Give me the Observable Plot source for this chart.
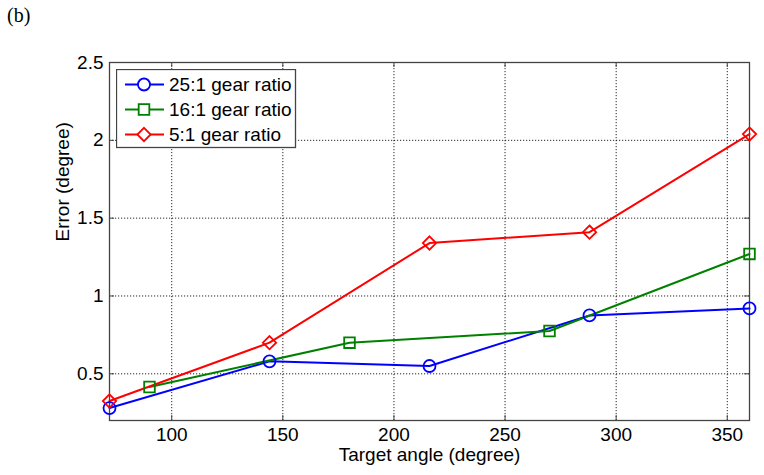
<!DOCTYPE html>
<html>
<head>
<meta charset="utf-8">
<script src="https://cdn.jsdelivr.net/npm/d3@7"></script>
<script src="https://cdn.jsdelivr.net/npm/@observablehq/plot@0.6"></script>
<style>
  html, body { margin: 0; padding: 0; background: #fff; }
  #wrap { position: relative; width: 764px; height: 475px; font-family: "Liberation Sans", Arial, sans-serif; }
  #tag { position: absolute; left: 7px; top: 4px; font-family: "Liberation Serif", "Times New Roman", serif; font-size: 20px; color: #000; }
  #legend { position: absolute; left: 116px; top: 69px; }
</style>
</head>
<body>
<div id="wrap">
  <div id="tag">(b)</div>
</div>
<script>
// ---- data ----
const seriesNames = ["25:1 gear ratio", "16:1 gear ratio", "5:1 gear ratio"];
const seriesColors = ["#0000ff", "#008000", "#ff0000"];
const seriesSymbols = ["circle", "square", "diamond2"];

const angles25 = [72, 144, 216, 288, 360];
const error25  = [0.28, 0.58, 0.55, 0.875, 0.92];

const angles16 = [90, 180, 270, 360];
const error16  = [0.415, 0.70, 0.775, 1.27];

const angles5  = [72, 144, 216, 288, 360];
const error5   = [0.325, 0.70, 1.34, 1.41, 2.04];

const xTicks = [100, 150, 200, 250, 300, 350];
const yTicks = [0.5, 1, 1.5, 2, 2.5];
const xLabel = "Target angle (degree)";
const yLabel = "Error (degree)";

// ---- build table ----
const rows = [];
[[angles25, error25], [angles16, error16], [angles5, error5]].forEach(([xs, ys], i) => {
  xs.forEach((x, j) => rows.push({series: seriesNames[i], angle: x, error: ys[j]}));
});

const W = 764, H = 475, mL = 109, mR = 15, mT = 62, mB = 55;
const fw = W - mL - mR, fh = H - mT - mB;
const axisColor = "#444";
const tickLen = 5;
const FS = 19;

const chart = Plot.plot({
  width: W, height: H,
  marginLeft: mL, marginRight: mR, marginTop: mT, marginBottom: mB,
  style: {fontFamily: "Liberation Sans, Arial, sans-serif", fontSize: FS + "px", color: "#000", background: "#fff"},
  x: {domain: [72, 360], ticks: xTicks, tickSize: 0, tickPadding: 7, label: null, tickFormat: d => String(d)},
  y: {domain: [0.2, 2.5], ticks: yTicks, tickSize: 0, tickPadding: 6, label: null, tickFormat: d => String(d)},
  color: {domain: seriesNames, range: seriesColors},
  symbol: {domain: seriesNames, range: seriesSymbols},
  marks: [
    Plot.ruleX(xTicks, {x: d => d, stroke: "#000", strokeOpacity: 0.85, strokeWidth: 1, strokeDasharray: "1.2,1.8"}),
    Plot.ruleY(yTicks, {y: d => d, stroke: "#000", strokeOpacity: 0.85, strokeWidth: 1, strokeDasharray: "1.2,1.8"}),
    Plot.tickX(xTicks, {x: d => d, insetBottom: fh - tickLen, stroke: axisColor}),
    Plot.tickX(xTicks, {x: d => d, insetTop: fh - tickLen, stroke: axisColor}),
    Plot.tickY(yTicks, {y: d => d, insetRight: fw - tickLen, stroke: axisColor}),
    Plot.tickY(yTicks, {y: d => d, insetLeft: fw - tickLen, stroke: axisColor}),
    Plot.frame({stroke: axisColor, strokeWidth: 1.3}),
    Plot.line(rows, {x: "angle", y: "error", z: "series", stroke: "series", strokeWidth: 2}),
    Plot.dot(rows, {x: "angle", y: "error", stroke: "series", symbol: "series", r: 6, strokeWidth: 1.8, fill: "none"}),
    Plot.text([xLabel], {text: d => d, frameAnchor: "bottom", dy: 40, fontSize: FS, fill: "#000"}),
    Plot.text([yLabel], {text: d => d, frameAnchor: "left", dx: -47, rotate: -90, fontSize: FS, fill: "#000"})
  ]
});
document.getElementById("wrap").appendChild(chart);

// ---- legend ----
const lw = 179, lh = 78;
const leg = d3.select("#wrap").append("svg")
  .attr("id", "legend").attr("width", lw + 2).attr("height", lh + 2);
leg.append("rect").attr("x", 0.5).attr("y", 0.5).attr("width", lw).attr("height", lh)
  .attr("fill", "#fff").attr("stroke", axisColor).attr("stroke-width", 1.3);
const symMap = {circle: d3.symbolCircle, square: d3.symbolSquare, diamond2: d3.symbolDiamond2};
seriesNames.forEach((name, i) => {
  const cy = 15.5 + i * 25;
  const g = leg.append("g");
  g.append("line").attr("x1", 9).attr("x2", 48).attr("y1", cy).attr("y2", cy)
    .attr("stroke", seriesColors[i]).attr("stroke-width", 2);
  g.append("path").attr("transform", `translate(28,${cy})`)
    .attr("d", d3.symbol(symMap[seriesSymbols[i]], Math.PI * 36)())
    .attr("fill", "#fff").attr("stroke", seriesColors[i]).attr("stroke-width", 1.8);
  g.append("text").attr("x", 53).attr("y", cy).attr("dy", "0.35em")
    .attr("font-family", "Liberation Sans, Arial, sans-serif").attr("font-size", FS)
    .attr("fill", "#000").text(name);
});
</script>
</body>
</html>
